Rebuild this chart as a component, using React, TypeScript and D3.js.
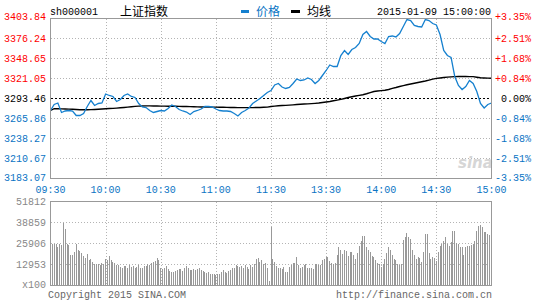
import React from 'react';
import * as d3 from 'd3';

const priceLabels = ['3403.84', '3376.24', '3348.65', '3321.05', '3293.46', '3265.86', '3238.27', '3210.67', '3183.07'];
const pctLabels = ['+3.35%', '+2.51%', '+1.68%', '+0.84%', '0.00%', '-0.84%', '-1.68%', '-2.51%', '-3.35%'];
const timeLabels = ['09:30', '10:00', '10:30', '11:00', '11:30', '13:30', '14:00', '14:30', '15:00'];
const volLabels = ['51812', '38859', '25906', '12953'];
const volUnit = 'x100';
const prevClose = 3293.46;
const priceMin = 3183.07;
const priceMax = 3403.84;
const volMax = 51812;
const totalMinutes = 240;
const sampleStep = 2; // price & average sampled every 2 minutes

// price every 2 minutes, 09:30 .. 15:00 (121 samples)
const price: number[] = [
  3276.9, 3285.18, 3287.25, 3274.14, 3276.21, 3276.9, 3276.21, 3270.0, 3270.0, 3272.76,
  3282.42, 3290.7, 3283.8, 3286.56, 3287.25, 3299.67, 3297.6, 3296.22, 3289.32, 3292.08,
  3297.6, 3299.67, 3296.22, 3294.84, 3286.56, 3281.73, 3281.04, 3276.9, 3274.14, 3275.52,
  3276.9, 3276.21, 3279.66, 3284.49, 3282.42, 3278.28, 3276.21, 3274.83, 3271.38, 3275.52,
  3276.9, 3278.97, 3282.42, 3282.42, 3281.73, 3278.97, 3276.9, 3276.21, 3276.21, 3275.52,
  3272.76, 3269.31, 3274.14, 3276.9, 3280.35, 3286.56, 3290.01, 3293.46, 3297.6, 3301.74,
  3304.5, 3312.09, 3314.16, 3309.33, 3307.26, 3308.64, 3314.16, 3320.37, 3318.3, 3318.99,
  3321.75, 3319.68, 3314.16, 3318.3, 3325.2, 3332.09, 3339.68, 3337.61, 3337.61, 3352.79,
  3359.69, 3354.17, 3361.07, 3363.83, 3369.35, 3381.77, 3385.91, 3379.01, 3375.56, 3375.56,
  3372.11, 3369.35, 3379.01, 3379.7, 3378.32, 3383.15, 3392.81, 3402.46, 3401.08, 3394.19,
  3392.81, 3392.12, 3402.46, 3401.08, 3396.95, 3394.88, 3381.77, 3359.69, 3352.79, 3350.03,
  3323.82, 3311.4, 3305.88, 3310.02, 3318.3, 3314.16, 3303.12, 3286.56, 3280.35, 3285.18,
  3287.25,
];

// average price line every 2 minutes (121 samples)
const avgPrice: number[] = [
  3276.9, 3279.5, 3279.3, 3279.2, 3279.0, 3278.8, 3278.6, 3278.3, 3278.0, 3277.9,
  3277.9, 3278.1, 3278.3, 3278.6, 3279.0, 3279.3, 3279.6, 3279.9, 3280.2, 3280.6,
  3281.0, 3281.5, 3282.0, 3282.6, 3283.0, 3283.2, 3283.3, 3283.3, 3283.2, 3283.1,
  3283.0, 3282.9, 3282.8, 3282.8, 3282.7, 3282.6, 3282.5, 3282.4, 3282.2, 3282.0,
  3281.9, 3281.8, 3281.7, 3281.6, 3281.6, 3281.5, 3281.4, 3281.3, 3281.2, 3281.1,
  3281.0, 3280.9, 3280.8, 3280.8, 3280.8, 3280.9, 3281.0, 3281.1, 3281.3, 3281.6,
  3282.4, 3282.9, 3283.4, 3283.7, 3284.0, 3284.3, 3284.7, 3285.1, 3285.5, 3285.8,
  3286.1, 3286.4, 3286.8, 3287.3, 3288.0, 3288.7, 3289.4, 3290.3, 3291.2, 3292.2,
  3293.5, 3294.8, 3295.9, 3296.9, 3297.7, 3298.6, 3300.0, 3301.6, 3303.1, 3303.8,
  3304.3, 3304.8, 3305.9, 3307.4, 3308.6, 3310.0, 3311.3, 3312.4, 3313.4, 3314.5,
  3315.5, 3316.5, 3317.6, 3318.9, 3320.1, 3321.2, 3321.8, 3322.4, 3322.9, 3323.3,
  3323.6, 3323.8, 3323.8, 3323.8, 3323.7, 3323.6, 3322.8, 3322.0, 3321.7, 3321.5,
  3321.4,
];

// volume per minute (x100), 241 bars
const volume: number[] = [
  29800, 25800, 25800, 25600, 24000, 25800, 24800, 38500, 35000, 25500,
  25200, 18800, 19000, 20500, 25800, 22000, 21000, 20200, 18500, 17200,
  19500, 16000, 16500, 14500, 13200, 13000, 13200, 12600, 14000, 13500,
  16400, 15500, 18000, 15500, 14500, 14000, 12800, 12500, 11500, 11000,
  11800, 12200, 10500, 12500, 11200, 12000, 10800, 11200, 12500, 10700,
  11000, 12000, 12300, 13000, 12500, 13800, 14800, 15200, 16800, 16000,
  10700, 10300, 11000, 12000, 10200, 9200, 8500, 8400, 8700, 9500,
  10000, 10400, 9200, 10800, 12000, 10500, 9800, 9600, 10000, 9400,
  10200, 10600, 9800, 9000, 8200, 7800, 8500, 7300, 6800, 7200,
  6500, 7000, 7200, 8600, 9500, 8200, 8000, 9200, 9800, 10500,
  11000, 12500, 12200, 11200, 12000, 10800, 12500, 11300, 10000, 12800,
  11500, 13500, 16200, 17000, 14500, 15500, 13000, 14000, 11000, 2900,
  36000, 16500, 14800, 12000, 11000, 11000, 10000, 11200, 8500, 8500,
  11500, 12500, 14000, 14000, 17500, 12500, 11000, 11500, 12500, 13000,
  11000, 10500, 10500, 10000, 13500, 13000, 12800, 12900, 15500, 16500,
  17500, 17500, 15000, 14000, 13500, 14000, 19000, 24000, 22000, 19500,
  22000, 21000, 18500, 20500, 20500, 19000, 16500, 20000, 24500, 27500,
  30800, 30500, 24000, 22000, 20500, 18000, 17500, 15500, 14000, 13000,
  11500, 13000, 16500, 20000, 23500, 22000, 19000, 16500, 15500, 13500,
  12500, 13500, 28000, 30000, 32500, 30000, 28500, 22000, 19000, 16500,
  17500, 17000, 14500, 20500, 31500, 31500, 20000, 16500, 17500, 17000,
  15000, 20500, 24500, 25500, 27500, 30000, 25500, 24500, 27000, 33500,
  33500, 26500, 25500, 23500, 23500, 19000, 23500, 24500, 24500, 25000,
  25500, 27500, 33500, 36500, 37500, 36000, 33000, 33000, 32000, 31000, 30000,
];

const RED = '#ff0000';
const BLUE = '#0a74c4';
const LINE_BLUE = '#1580cf';
const GRID = '#b4b4b4';
const FRAME = '#999999';
const MONO = '"Liberation Mono", "DejaVu Sans Mono", monospace';
const CJK = '"Noto Sans CJK SC", sans-serif';

export default function App() {
  const W = 545;
  const H = 300;
  const left = 50.5;
  const right = 491.5;
  const x = d3.scaleLinear().domain([0, totalMinutes]).range([left, right]);
  const y = d3.scaleLinear().domain([priceMin, priceMax]).range([178.5, 18.5]);
  const yv = d3.scaleLinear().domain([0, volMax]).range([285.5, 201.5]);

  const priceLine = d3
    .line<number>()
    .x((_, k) => x(k * sampleStep))
    .y((d) => y(d));

  const priceVals = priceLabels.map(Number);
  const volVals = volLabels.map(Number);
  const tickMinutes = timeLabels.map((_, k) => k * 30);

  const pctColor = (k: number) => (k < 4 ? RED : k === 4 ? '#000' : BLUE);

  return (
    <svg width={W} height={H} style={{ display: 'block', background: '#fff' }}>
      <style>{`body{margin:0}`}</style>
      {/* header */}
      <g fontFamily={MONO} fontSize={10}>
        <text x={50} y={15} fill="#000">sh000001</text>
        <text x={120} y={16} fontFamily={CJK} fontSize={12} fill="#000">上证指数</text>
        <rect x={241} y={10} width={8} height={3} fill={LINE_BLUE} />
        <text x={256} y={16} fontFamily={CJK} fontSize={12} fill={BLUE}>价格</text>
        <rect x={291} y={10} width={9} height={3} fill="#000" />
        <text x={307} y={16} fontFamily={CJK} fontSize={12} fill="#000">均线</text>
        <text x={491} y={15} textAnchor="end" fill="#000">2015-01-09 15:00:00</text>
      </g>

      {/* main grid */}
      <g shapeRendering="crispEdges">
        {priceVals.slice(1, -1).map((v, k) =>
          v === prevClose ? null : (
            <line key={'h' + k} x1={left} x2={right} y1={y(v)} y2={y(v)} stroke={GRID} strokeDasharray="1,2" />
          )
        )}
        {tickMinutes.slice(1, -1).map((m) => (
          <line key={'v' + m} x1={Math.round(x(m)) + 0.5} x2={Math.round(x(m)) + 0.5} y1={18.5} y2={178.5} stroke={GRID} strokeDasharray="1,2" />
        ))}
        <line x1={left} x2={right} y1={y(prevClose)} y2={y(prevClose)} stroke="#000" strokeDasharray="2,2" />
      </g>

      {/* sina watermark */}
      <text x={458} y={168} fontFamily="'DejaVu Sans', sans-serif" fontStyle="italic" fontWeight="bold" fontSize={15} fill="#d6d6d6">sina</text>

      {/* lines */}
      <path d={priceLine(avgPrice) || ''} fill="none" stroke="#000" strokeWidth={1.4} />
      <path d={priceLine(price) || ''} fill="none" stroke={LINE_BLUE} strokeWidth={1.3} />

      {/* main frame */}
      <rect x={left} y={18.5} width={right - left} height={160} fill="none" stroke={FRAME} shapeRendering="crispEdges" />

      {/* price labels */}
      <g fontFamily={MONO} fontSize={10}>
        {priceVals.map((v, k) => (
          <text key={'pl' + k} x={46} y={y(v) + (k === 0 ? -2 : k === 8 ? -1 : 0)} dy="0.35em" textAnchor="end" fill={pctColor(k)}>
            {priceLabels[k]}
          </text>
        ))}
        {priceVals.map((v, k) => (
          <text key={'pr' + k} x={531} y={y(v) + (k === 0 ? -2 : k === 8 ? -1 : 0)} dy="0.35em" textAnchor="end" fill={pctColor(k)}>
            {pctLabels[k]}
          </text>
        ))}
        {tickMinutes.map((m, k) => (
          <text key={'t' + k} x={x(m)} y={189} dy="0.35em" textAnchor="middle" fill={BLUE}>
            {timeLabels[k]}
          </text>
        ))}
      </g>

      {/* volume panel */}
      <g shapeRendering="crispEdges">
        {volVals.slice(1).map((v, k) => (
          <line key={'vh' + k} x1={left} x2={right} y1={yv(v)} y2={yv(v)} stroke={GRID} strokeDasharray="1,2" />
        ))}
        {tickMinutes.slice(1, -1).map((m) => (
          <line key={'vv' + m} x1={Math.round(x(m)) + 0.5} x2={Math.round(x(m)) + 0.5} y1={201.5} y2={285.5} stroke={GRID} strokeDasharray="1,2" />
        ))}
        {volume.map((v, i) => (
          <rect key={'b' + i} x={Math.floor(x(i))} y={yv(v)} width={1} height={yv(0) - yv(v)} fill="#999" />
        ))}
        <rect x={left} y={201.5} width={right - left} height={84} fill="none" stroke={FRAME} />
      </g>
      <g fontFamily={MONO} fontSize={10} fill="#888">
        {volVals.map((v, k) => (
          <text key={'vl' + k} x={46} y={yv(v)} dy="0.35em" textAnchor="end">{volLabels[k]}</text>
        ))}
        <text x={46} y={yv(0) - 1} dy="0.35em" textAnchor="end">{volUnit}</text>
        <text x={48} y={294} dy="0.35em" fill="#666">Copyright 2015 SINA.COM</text>
        <text x={492} y={294} dy="0.35em" textAnchor="end" fill="#666">http://finance.sina.com.cn</text>
      </g>
    </svg>
  );
}
